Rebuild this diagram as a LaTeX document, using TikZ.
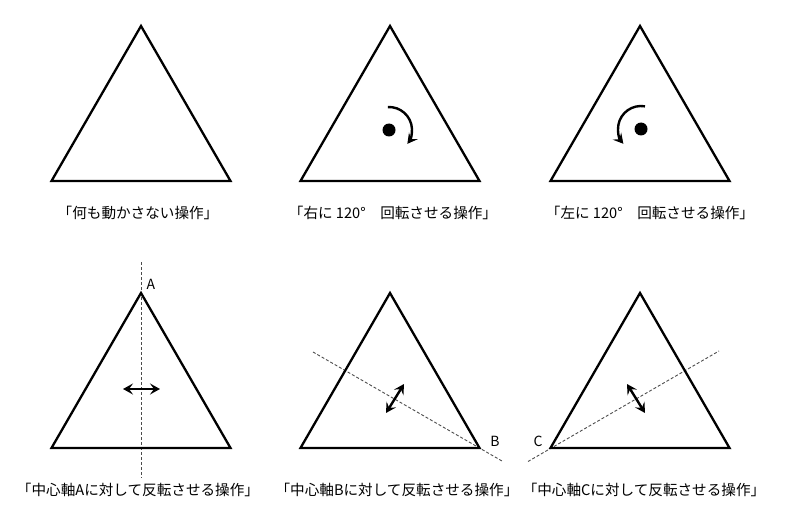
\documentclass[tikz,border=0pt]{standalone}
\usepackage{fontspec}
\setmainfont{Noto Sans CJK JP}
\usetikzlibrary{arrows.meta,calc}

\begin{document}
\begin{tikzpicture}[x=1pt,y=-1pt,
  tri/.style={line width=2.3pt},
  axis/.style={line width=0.9pt,black!70,dash pattern=on 3pt off 2pt},
  flip/.style={{Stealth[length=10pt,width=11pt,inset=4pt]}-{Stealth[length=10pt,width=11pt,inset=4pt]},line width=2.4pt},
  turn/.style={-{Stealth[length=10pt,width=11pt,inset=4pt]},line width=2.4pt},
  lbl/.style={font=\fontsize{14.6pt}{18pt}\selectfont},
  vtx/.style={font=\fontsize{14pt}{16pt}\selectfont}]
\useasboundingbox (0,0) rectangle (800,524);

% top row
\coordinate (e1) at (141,26);  \coordinate (e2) at (51.5,181);  \coordinate (e3) at (230.5,181);
\coordinate (r1) at (390,26);  \coordinate (r2) at (300.5,181); \coordinate (r3) at (479.5,181);
\coordinate (l1) at (640,26);  \coordinate (l2) at (550.5,181); \coordinate (l3) at (729.5,181);
\draw [tri] (e1)--(e2)--(e3)--cycle;
\draw [tri] (r1)--(r2)--(r3)--cycle;
\draw [tri] (l1)--(l2)--(l3)--cycle;

\coordinate (rc) at (389,130);
\coordinate (lc) at (641,129);
\fill (rc) circle (6.5);
\fill (lc) circle (6.5);
\draw [turn] ($(rc)+(-93:23)$) arc (-93:37:23);
\draw [turn] ($(lc)+(-80:23)$) arc (-80:-220:23);

\node [lbl] (te) at (138,213) {「何も動かさない操作」};
\node [lbl] (tr) at (393,213) {「右に 120°　回転させる操作」};
\node [lbl] (tl) at (650,213) {「左に 120°　回転させる操作」};

% bottom row
\coordinate (a1) at (141,293);  \coordinate (a2) at (51.5,448);  \coordinate (a3) at (230.5,448);
\coordinate (b1) at (390,293);  \coordinate (b2) at (300.5,448); \coordinate (b3) at (479.5,448);
\coordinate (c1) at (640,293);  \coordinate (c2) at (550.5,448); \coordinate (c3) at (729.5,448);

\coordinate (aS) at (141,262);  \coordinate (aE) at (141,478);
\coordinate (bS) at (313,352);  \coordinate (bE) at (502,461);
\coordinate (cS) at (528,461.5);\coordinate (cE) at (719,351);
\draw [axis] (aS)--(aE);
\draw [axis] (bS)--(bE);
\draw [axis] (cS)--(cE);

\draw [tri] (a1)--(a2)--(a3)--cycle;
\draw [tri] (b1)--(b2)--(b3)--cycle;
\draw [tri] (c1)--(c2)--(c3)--cycle;

\node [vtx] (A) at (151,284) {A};
\node [vtx] (B) at (495,441) {B};
\node [vtx] (C) at (538,441) {C};

\coordinate (fa1) at (123,389); \coordinate (fa2) at (160,389);
\coordinate (fb1) at (404,384); \coordinate (fb2) at (386,413);
\coordinate (fc1) at (627,384); \coordinate (fc2) at (645,413);
\draw [flip] (fa1)--(fa2);
\draw [flip] (fb1)--(fb2);
\draw [flip] (fc1)--(fc2);

\node [lbl] (ba) at (138,490) {「中心軸Aに対して反転させる操作」};
\node [lbl] (bb) at (397,490) {「中心軸Bに対して反転させる操作」};
\node [lbl] (bc) at (644,490) {「中心軸Cに対して反転させる操作」};

\end{tikzpicture}
\end{document}
